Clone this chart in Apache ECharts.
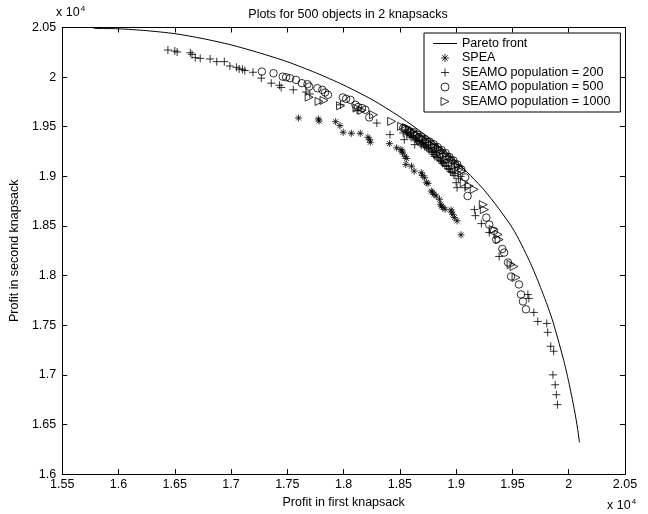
<!DOCTYPE html>
<html><head><meta charset="utf-8">
<script src="https://cdn.jsdelivr.net/npm/echarts@6/dist/echarts.min.js"></script>
<style>html,body{margin:0;padding:0;background:#fff}#c{width:648px;height:514px}</style>
</head><body><div id="c"></div>
<script>
var xTicks = [15500, 16000, 16500, 17000, 17500, 18000, 18500, 19000, 19500, 20000, 20500];
var yTicks = [16000, 16500, 17000, 17500, 18000, 18500, 19000, 19500, 20000, 20500];

var paretoFront = [
  [15780,20490],[16000,20487],[16250,20468],[16500,20438],[16750,20388],[17000,20325],
  [17250,20245],[17500,20155],[17750,20045],[18000,19920],[18250,19775],[18500,19600],
  [18750,19395],[19000,19150],[19250,18860],[19500,18480],[19650,18150],[19750,17880],
  [19850,17570],[19950,17170],[20000,16930],[20050,16650],[20080,16450],[20095,16320]
];

var spea = [
  [17600,19588],[17776,19578],[17782,19558],[17929,19551],[17967,19511],[17996,19444],
  [18069,19434],[18148,19434],[18216,19394],[18231,19370],[18237,19344],[18407,19330],
  [18471,19287],[18509,19270],[18524,19237],[18544,19203],[18553,19120],[18603,19103],
  [18627,19053],[18691,19036],[18720,18986],[18735,18936],[18750,18929],[18779,18852],
  [18803,18819],[18823,18802],[18852,18769],[18861,18719],[18882,18685],[18902,18669],
  [18955,18662],[18970,18618],[18984,18585],[19008,18552],[19043,18411],
  [18520,19255],[18560,19180],[18700,19010],[18790,18840],[18870,18700],[18960,18640]
];

var seamo200 = [
  [16439,20273],[16500,20263],[16521,20253],[16638,20246],[16653,20229],[16682,20196],
  [16726,20189],[16814,20183],[16873,20156],[16940,20156],[16990,20112],[17049,20099],
  [17072,20082],[17101,20079],[17122,20066],[17195,20049],[17269,19990],[17357,19939],
  [17430,19918],[17445,19895],[17553,19872],[17665,19850],[17700,19830],[17972,19721],
  [18119,19665],[18295,19537],[18412,19421],[18530,19437],[18539,19370],[18632,19320],
  [18560,19420],[18600,19390],[18650,19360],[18680,19330],[18700,19340],[18720,19300],
  [18750,19280],[18780,19250],[18800,19220],[18820,19240],[18830,19190],[18860,19160],
  [18880,19130],[18900,19110],[18930,19080],[18950,19050],[18980,19010],[19020,18980],
  [18570,19440],[18590,19410],[18615,19400],[18640,19375],[18660,19350],[18690,19315],
  [18710,19320],[18735,19290],[18760,19265],[18790,19240],[18810,19200],[18845,19175],
  [18870,19150],[18890,19140],[18915,19100],[18940,19070],[18965,19040],[18990,19030],
  [19040,19000],[19000,18936],[19008,18886],[19078,18886],[19162,18665],[19171,18604],
  [19224,18524],[19294,18434],[19382,18193],[19637,17810],[19646,17770],[19690,17629],
  [19725,17538],[19805,17518],[19813,17428],[19840,17288],[19866,17238],[19860,17000],
  [19880,16900],[19890,16800],[19900,16700]
];

var seamo500 = [
  [17274,20056],[17377,20039],[17459,20005],[17489,19999],[17524,19989],[17577,19972],
  [17629,19939],[17679,19929],[17694,19905],[17767,19888],[17811,19872],[17835,19845],
  [17861,19822],[17993,19795],[18022,19781],[18061,19771],[18105,19721],[18128,19698],
  [18163,19688],[18193,19671],[18228,19594],[18530,19487],
  [18545,19480],[18575,19465],[18590,19440],[18620,19445],[18635,19415],[18655,19420],
  [18670,19395],[18690,19400],[18705,19370],[18725,19375],[18745,19345],[18765,19350],
  [18780,19320],[18800,19325],[18815,19290],[18835,19295],[18850,19260],[18870,19265],
  [18885,19230],[18905,19235],[18920,19200],[18940,19195],[18955,19165],[18975,19160],
  [18990,19125],[19010,19120],[19025,19085],[19045,19070],[19080,18990],
  [19102,18802],[19268,18584],[19294,18514],[19336,18451],[19356,18363],[19410,18268],
  [19426,18232],[19461,18132],[19488,17991],[19558,17911],[19576,17810],[19593,17740],
  [19620,17660]
];

var seamo1000 = [
  [17694,19798],[17782,19755],[17826,19765],[17973,19711],[18119,19688],[18163,19665],
  [18266,19621],[18427,19554],[18515,19504],
  [18555,19490],[18585,19470],[18610,19455],[18630,19430],[18660,19410],[18685,19385],
  [18710,19380],[18735,19355],[18760,19330],[18790,19310],[18810,19300],[18840,19275],
  [18860,19245],[18890,19215],[18915,19195],[18945,19170],[18965,19140],[18995,19110],
  [19020,19090],[19050,19050],[19072,18936],[19116,18903],
  [19160,18869],[19241,18715],[19250,18665],[19329,18464],[19373,18414],[19382,18363],
  [19488,18112],[19514,18092],[19532,17981]
];

var FONT = '"Liberation Sans", Arial, Helvetica, sans-serif';
var FS = 12.5;
var P_PLUS = 'path://M5,0L5,10M0,5L10,5';
var P_STAR = 'path://M5,0L5,10M0,5L10,5M1.5,1.5L8.5,8.5M1.5,8.5L8.5,1.5';
var P_CIRC = 'path://M10,5A5,5,0,1,1,0,5A5,5,0,1,1,10,5Z';
var P_TRI = 'path://M0,0L10,5L0,10Z';
var P_LINE = 'path://M0,0L24,0L24,1L0,1Z';

function fmt(v){ return String(parseFloat((v/10000).toFixed(2))); }

var markStyle = {color:'rgba(0,0,0,0)', borderColor:'#000', borderWidth:1};
function scat(name, data, sym, size){
  return {name:name, type:'scatter', data:data, symbol:sym, symbolSize:size,
    itemStyle:markStyle, emphasis:{disabled:true}, silent:true, z:3};
}

var chart = echarts.init(document.getElementById('c'), null, {renderer:'canvas'});
var axCommon = {
  axisLine:{show:true, onZero:false, lineStyle:{color:'#000', width:1}},
  axisTick:{show:true, inside:true, length:5, lineStyle:{color:'#000'}},
  splitLine:{show:false}
};
chart.setOption({
  animation:false,
  backgroundColor:'#fff',
  textStyle:{fontFamily:FONT},
  title:{text:'Plots for 500 objects in 2 knapsacks', left:343, top:3, textAlign:'center',
    textStyle:{fontSize:FS, fontWeight:'normal', color:'#000', fontFamily:FONT}},
  grid:{left:57, right:23, top:27.5, bottom:39, containLabel:false},
  legend:{
    orient:'vertical', left:424, top:33, padding:[4,10,4,9], itemGap:1.5,
    itemWidth:24, itemHeight:8, borderColor:'#000', borderWidth:1, backgroundColor:'#fff',
    textStyle:{fontSize:FS, color:'#000', fontFamily:FONT},
    selectedMode:false,
    data:[
      {name:'Pareto front', icon:P_LINE, itemStyle:{color:'#000', borderWidth:0}},
      {name:'SPEA', icon:P_STAR, itemStyle:markStyle},
      {name:'SEAMO population = 200', icon:P_PLUS, itemStyle:markStyle},
      {name:'SEAMO population = 500', icon:P_CIRC, itemStyle:markStyle},
      {name:'SEAMO population = 1000', icon:P_TRI, itemStyle:markStyle}
    ]
  },
  xAxis:[
    Object.assign({type:'value', position:'bottom', min:15500, max:20500, interval:500,
      name:'Profit in first knapsack', nameLocation:'middle', nameGap:19,
      nameTextStyle:{fontSize:FS, color:'#000', fontFamily:FONT},
      axisLabel:{formatter:fmt, fontSize:FS, color:'#000', margin:4, fontFamily:FONT}}, axCommon),
    Object.assign({type:'value', position:'top', min:15500, max:20500, interval:500,
      axisLabel:{show:false}}, axCommon)
  ],
  yAxis:[
    Object.assign({type:'value', position:'left', min:16000, max:20500, interval:500,
      name:'Profit in second knapsack', nameLocation:'middle', nameGap:37, nameRotate:90,
      nameTextStyle:{fontSize:FS, color:'#000', fontFamily:FONT},
      axisLabel:{formatter:fmt, fontSize:FS, color:'#000', margin:6, fontFamily:FONT}}, axCommon),
    Object.assign({type:'value', position:'right', min:16000, max:20500, interval:500,
      axisLabel:{show:false}}, axCommon)
  ],
  graphic:[
    {type:'text', left:56, top:5, style:{text:'x 10{s|4}', fontSize:FS, fill:'#000', fontFamily:FONT,
      rich:{s:{fontSize:8, verticalAlign:'top', padding:[0,0,8,1], fontFamily:FONT}}}},
    {type:'text', left:607, top:498, style:{text:'x 10{s|4}', fontSize:FS, fill:'#000', fontFamily:FONT,
      rich:{s:{fontSize:8, verticalAlign:'top', padding:[0,0,8,1], fontFamily:FONT}}}}
  ],
  series:[
    {name:'Pareto front', type:'line', data:paretoFront, symbol:'none', smooth:0.25,
      lineStyle:{color:'#000', width:1}, itemStyle:{color:'#000'}, silent:true, z:2},
    scat('SPEA', spea, P_STAR, 7),
    scat('SEAMO population = 200', seamo200, P_PLUS, 8),
    scat('SEAMO population = 500', seamo500, P_CIRC, 7.5),
    scat('SEAMO population = 1000', seamo1000, P_TRI, 8)
  ]
});
</script></body></html>
